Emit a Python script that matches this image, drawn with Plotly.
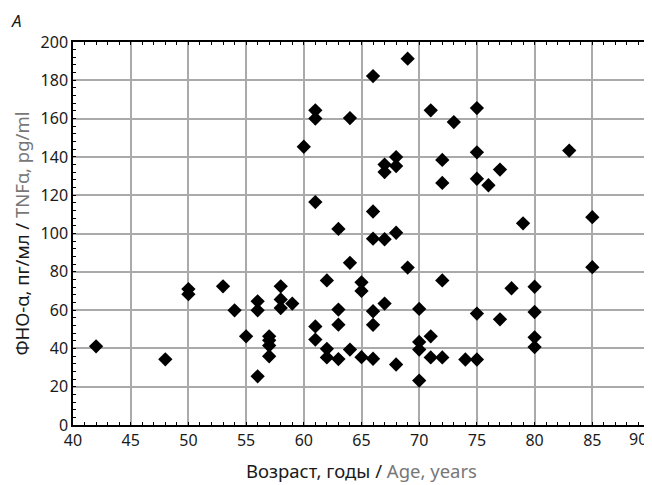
import plotly.graph_objects as go

age = [42, 48, 50, 50, 53, 54, 55, 56, 56, 56, 57, 57, 57, 57, 58, 58, 58, 59, 60,
       61, 61, 61, 61, 61, 62, 62, 62, 63, 63, 63, 63, 64, 64, 64, 65, 65, 65,
       66, 66, 66, 66, 66, 66, 67, 67, 67, 67, 68, 68, 68, 68, 69, 69,
       70, 70, 70, 70, 71, 71, 71, 72, 72, 72, 72, 73, 74,
       75, 75, 75, 75, 75, 76, 77, 77, 78, 79, 80, 80, 80, 80, 83, 85, 85]
tnf = [41.1, 34.3, 71.0, 68.3, 72.4, 59.9, 46.3, 64.6, 59.9, 25.4, 46.3, 44.2, 41.5, 35.9,
       72.4, 65.6, 61.1, 63.4, 145.3,
       164.3, 160.0, 116.4, 51.5, 44.6, 75.5, 39.8, 35.3, 102.4, 60.3, 52.4, 34.4,
       160.3, 84.7, 39.4, 74.5, 70.0, 35.4,
       182.2, 111.5, 97.3, 59.4, 52.3, 34.6, 136.0, 132.1, 97.0, 63.4,
       139.9, 135.2, 100.4, 31.6, 191.3, 82.2,
       60.6, 43.4, 39.4, 23.2, 164.3, 46.3, 35.3, 138.4, 126.4, 75.5, 35.3, 158.2, 34.2,
       165.5, 142.4, 128.6, 58.2, 34.2, 125.2, 133.4, 55.2, 71.4, 105.3,
       72.2, 59.0, 45.8, 40.7, 143.3, 108.5, 82.4]

x_ticks = [40, 45, 50, 55, 60, 65, 70, 75, 80, 85, 90]
y_ticks = [0, 20, 40, 60, 80, 100, 120, 140, 160, 180, 200]

FONT = "Noto Sans"
TXT = "#1a1a1a"

fig = go.Figure()
fig.add_trace(go.Scatter(
    x=age, y=tnf, mode="markers",
    marker=dict(symbol="diamond", size=11, color="black", line=dict(width=0)),
    showlegend=False, cliponaxis=False,
))

fig.update_layout(
    width=644, height=477,
    margin=dict(l=65, r=2, t=34, b=60, autoexpand=False),
    paper_bgcolor="white", plot_bgcolor="white",
    font=dict(family=FONT, size=16, color=TXT),
    xaxis=dict(
        range=[40, 90], tickvals=x_ticks[:-1], ticktext=[str(v) for v in x_ticks[:-1]],
        showgrid=True, gridcolor="#aaaaaa", gridwidth=1.5,
        showline=True, linecolor="black", linewidth=1.5, mirror="allticks",
        ticks="inside", ticklen=0, tickcolor="black",
        minor=dict(dtick=1, ticks="inside", ticklen=3, tickcolor="black", showgrid=False),
        zeroline=False, automargin=False,
        title=dict(text="Возраст, годы / <span style='color:#777777'>Age, years</span>",
                   font=dict(size=18.5), standoff=15),
    ),
    yaxis=dict(
        range=[0, 200], tickvals=y_ticks, ticktext=[str(v) for v in y_ticks],
        showgrid=True, gridcolor="#aaaaaa", gridwidth=1.5,
        showline=True, linecolor="black", linewidth=1.5, mirror="allticks",
        ticks="inside", ticklen=0, tickcolor="black",
        minor=dict(dtick=4, ticks="inside", ticklen=3, tickcolor="black", showgrid=False),
        zeroline=False, automargin=False,
        title=dict(text="ФНО-α, пг/мл / <span style='color:#777777'>TNFα, pg/ml</span>",
                   font=dict(size=18.5), standoff=6),
    ),
    annotations=[
        dict(text="90", x=x_ticks[-1], y=0, xref="x", yref="paper", xanchor="right",
             yanchor="top", yshift=-2, xshift=-2, showarrow=False, borderpad=0,
             font=dict(size=16, color=TXT)),
        dict(text="<i>A</i>", x=0, y=1, xref="paper", yref="paper", xanchor="left",
             yanchor="top", xshift=-63, yshift=34, showarrow=False, borderpad=0,
             font=dict(size=17, color=TXT)),
    ],
)

fig.write_html("out.html")
